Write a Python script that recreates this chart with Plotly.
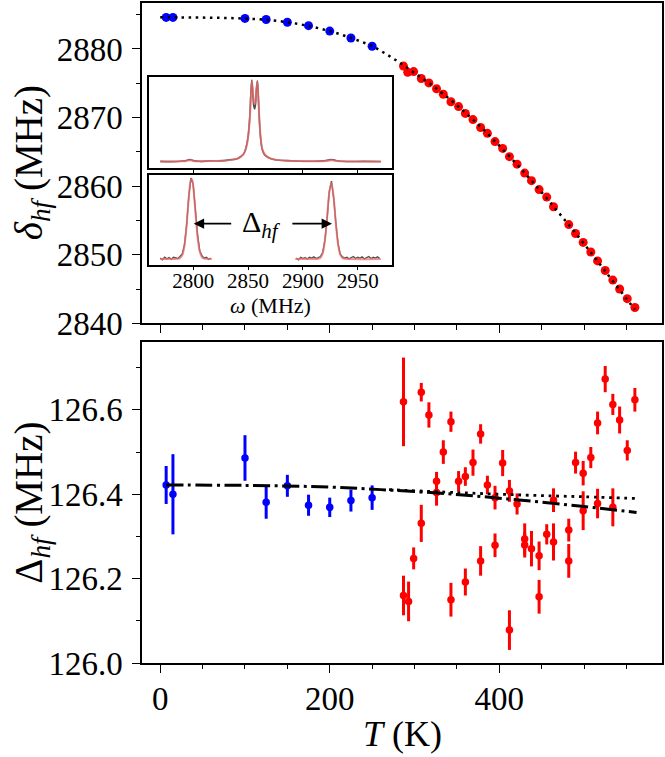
import plotly.graph_objects as go

# ---------------- data ----------------
blue_T = [7, 15, 100, 125, 150, 175, 200, 225, 250]
blue_D = [2884.6, 2884.6, 2884.45, 2884.3, 2883.9, 2883.4, 2882.6, 2881.6, 2880.4]
blue_dhf = [126.422, 126.400, 126.486, 126.381, 126.420, 126.374, 126.369, 126.385, 126.392]
blue_err = [0.045, 0.095, 0.054, 0.039, 0.026, 0.025, 0.023, 0.026, 0.029]

red_T_top = [287, 292, 299, 308, 317, 326, 334, 343, 352, 360, 369, 378, 386, 395, 404, 412,
             421, 430, 438, 447, 456, 464, 482, 490, 499, 508, 516, 525, 534, 542, 551, 560]
red_D = [2877.5, 2876.6, 2876.7, 2875.7, 2875.05, 2874.2, 2873.4, 2872.3, 2871.6, 2870.6,
         2869.7, 2868.55, 2867.7, 2866.5, 2865.5, 2864.3, 2863.2, 2861.9, 2860.8, 2859.5,
         2858.4, 2857.0, 2854.4, 2853.1, 2851.8, 2850.4, 2849.1, 2847.7, 2846.3, 2845.0,
         2843.6, 2842.3]

red_T_bot = [287, 287, 293, 299, 308, 308, 317, 326, 326, 334, 343, 343, 352, 360, 360, 369,
             378, 378, 386, 395, 395, 404, 412, 412, 421, 430, 430, 438, 447, 447, 456, 464,
             464, 482, 482, 490, 499, 499, 508, 516, 516, 525, 534, 534, 542, 551, 560]
red_dhf = [126.619, 126.160, 126.146, 126.248, 126.642, 126.331, 126.588, 126.431, 126.404,
           126.500, 126.572, 126.150, 126.431, 126.442, 126.192, 126.475, 126.543, 126.242,
           126.422, 126.392, 126.279, 126.474, 126.408, 126.078, 126.377, 126.294, 126.280,
           126.271, 126.254, 126.157, 126.305, 126.386, 126.287, 126.315, 126.242, 126.475,
           126.450, 126.361, 126.487, 126.569, 126.378, 126.673, 126.613, 126.369, 126.576,
           126.504, 126.624]
red_err = [0.105, 0.047, 0.047, 0.026, 0.022, 0.044, 0.030, 0.022, 0.031, 0.028, 0.024, 0.040,
           0.024, 0.022, 0.032, 0.031, 0.023, 0.035, 0.022, 0.028, 0.028, 0.031, 0.026, 0.047,
           0.025, 0.037, 0.030, 0.042, 0.034, 0.040, 0.024, 0.028, 0.044, 0.027, 0.040, 0.026,
           0.029, 0.046, 0.025, 0.027, 0.035, 0.031, 0.025, 0.045, 0.032, 0.024, 0.028]

# fit curve of the zero-field splitting (top panel)
fit_T = [0, 25, 50, 75, 100, 125, 150, 175, 200, 225, 250, 275, 300, 325, 350, 375, 400,
         425, 450, 475, 500, 525, 550, 560]
fit_D = [2884.62, 2884.60, 2884.57, 2884.52, 2884.43, 2884.25, 2883.90, 2883.35, 2882.60,
         2881.60, 2880.40, 2878.60, 2876.50, 2874.30, 2871.80, 2869.00, 2865.90, 2862.60,
         2859.10, 2855.40, 2851.60, 2847.60, 2843.60, 2842.00]

# fits of the hyperfine splitting (bottom panel)
fitA_T = [7, 100, 200, 260, 340, 420, 500, 562]
fitA_dhf = [126.422, 126.421, 126.417, 126.411, 126.401, 126.387, 126.371, 126.357]
fitB_T = [270, 350, 430, 500, 562]
fitB_dhf = [126.411, 126.404, 126.398, 126.394, 126.390]

# inset: spectra (normalised intensity vs omega in MHz)
up_w = [2770, 2780, 2790, 2794, 2797, 2800, 2806, 2815, 2825, 2835, 2840, 2843, 2846, 2848,
        2850, 2851.5, 2852.5, 2853.4, 2854.3, 2855.2, 2856.0, 2856.8, 2857.6, 2858.5, 2859.4,
        2860.4, 2861.5, 2863, 2865, 2868, 2871, 2876, 2885, 2900, 2915, 2921, 2926, 2931,
        2940, 2955, 2971]
up_fit = [0.004, 0.005, 0.007, 0.012, 0.02, 0.012, 0.009, 0.01, 0.014, 0.025, 0.04, 0.06, 0.1,
          0.16, 0.3, 0.52, 0.78, 1.0, 0.9, 0.76, 0.72, 0.76, 0.9, 1.0, 0.78, 0.52, 0.3, 0.16,
          0.1, 0.06, 0.04, 0.025, 0.014, 0.009, 0.008, 0.01, 0.02, 0.01, 0.006, 0.004, 0.003]
up_data = [0.006, 0.003, 0.01, 0.018, 0.028, 0.016, 0.007, 0.012, 0.012, 0.028, 0.038, 0.064,
           0.1, 0.17, 0.31, 0.55, 0.83, 1.02, 0.86, 0.7, 0.66, 0.72, 0.9, 1.01, 0.8, 0.5, 0.29,
           0.15, 0.09, 0.058, 0.04, 0.024, 0.016, 0.008, 0.01, 0.016, 0.03, 0.014, 0.005,
           0.006, 0.004]

lo_w_data = [2770, 2772, 2774, 2776, 2778, 2780, 2782, 2784, 2786, 2788, 2790, 2792, 2794,
             2796, 2798, 2800, 2802, 2804, 2806, 2808, 2810, 2812, 2814, 2816, None,
             2894, 2896, 2898, 2900, 2902, 2904, 2906, 2908, 2910, 2912, 2914, 2916, 2918,
             2920, 2922, 2924, 2926, 2928, 2930, 2932, 2934, 2936, 2938, 2940, 2942, 2944,
             2946, 2948, 2950, 2952, 2954, 2956, 2958, 2960, 2962, 2964, 2966, 2968, 2970]
lo_data = [0.01, -0.01, 0.02, 0.0, 0.015, -0.005, 0.02, 0.01, 0.005, 0.03, 0.06, 0.17, 0.42,
           0.78, 1.01, 0.93, 0.62, 0.3, 0.1, 0.04, 0.01, 0.02, -0.005, 0.01, None,
           0.01, -0.01, 0.02, 0.005, 0.015, 0.0, 0.02, 0.01, 0.025, 0.005, 0.015, 0.03, 0.08,
           0.23, 0.5, 0.84, 0.97, 0.76, 0.45, 0.19, 0.06, 0.025, 0.01, 0.02, 0.0, 0.015, 0.03,
           0.005, 0.02, 0.01, 0.025, 0.0, 0.015, 0.03, 0.005, 0.02, 0.01, 0.025, 0.005]
lo_w_fit = [2770, 2786, 2788, 2790, 2792, 2794, 2796, 2798, 2799, 2800, 2802, 2804, 2806, 2808,
            2810, 2817, None, 2893, 2912, 2914, 2916, 2918, 2920, 2922, 2924, 2926, 2928,
            2930, 2932, 2934, 2936, 2938, 2971]
lo_fit = [0.0, 0.002, 0.01, 0.044, 0.16, 0.417, 0.763, 0.989, 0.99, 0.907, 0.589, 0.27, 0.088,
          0.02, 0.003, 0.0, None, 0.0, 0.0, 0.002, 0.015, 0.068, 0.222, 0.509, 0.826, 0.948,
          0.771, 0.443, 0.18, 0.052, 0.01, 0.002, 0.0]

# ---------------- layout helpers (pixel -> paper) ----------------
W, H = 665, 757
ML, MR, MT, MB = 142, 2, 1, 94
PW, PH = W - ML - MR, H - MT - MB


def px(x):
    return (x - ML) / PW


def py(y):
    return (H - MB - y) / PH


FONT = "Liberation Serif"
BLUE, RED = "#0000ff", "#ff0000"

fig = go.Figure()

# top panel
fig.add_trace(go.Scatter(x=blue_T, y=blue_D, mode="markers", xaxis="x", yaxis="y",
                         marker=dict(color=BLUE, size=9, line=dict(width=0))))
fig.add_trace(go.Scatter(x=red_T_top, y=red_D, mode="markers", xaxis="x", yaxis="y",
                         marker=dict(color=RED, size=9, line=dict(width=0))))
fig.add_trace(go.Scatter(x=fit_T, y=fit_D, mode="lines", xaxis="x", yaxis="y",
                         line=dict(color="black", width=2.5, dash="2.5px,4.6px", shape="spline")))

# bottom panel
fig.add_trace(go.Scatter(x=blue_T, y=blue_dhf, mode="markers", xaxis="x2", yaxis="y2",
                         marker=dict(color=BLUE, size=7.5, line=dict(width=0)),
                         error_y=dict(type="data", array=blue_err, color=BLUE,
                                      thickness=3, width=0)))
fig.add_trace(go.Scatter(x=red_T_bot, y=red_dhf, mode="markers", xaxis="x2", yaxis="y2",
                         marker=dict(color=RED, size=7.5, line=dict(width=0)),
                         error_y=dict(type="data", array=red_err, color=RED,
                                      thickness=3, width=0)))
fig.add_trace(go.Scatter(x=fitA_T, y=fitA_dhf, mode="lines", xaxis="x2", yaxis="y2",
                         line=dict(color="black", width=3, dash="17px,4.5px,3px,4.5px",
                                   shape="spline")))
fig.add_trace(go.Scatter(x=fitB_T, y=fitB_dhf, mode="lines", xaxis="x2", yaxis="y2",
                         line=dict(color="black", width=2.8, dash="2.8px,4.8px",
                                   shape="spline")))

# insets
fig.add_trace(go.Scatter(x=up_w, y=up_data, mode="lines", xaxis="x3", yaxis="y3",
                         line=dict(color="#505050", width=1.6, shape="spline")))
fig.add_trace(go.Scatter(x=up_w, y=up_fit, mode="lines", xaxis="x3", yaxis="y3",
                         line=dict(color="rgba(240,110,110,0.75)", width=2, shape="spline")))
fig.add_trace(go.Scatter(x=lo_w_data, y=lo_data, mode="lines", xaxis="x4", yaxis="y4",
                         connectgaps=False,
                         line=dict(color="#505050", width=1.4)))
fig.add_trace(go.Scatter(x=lo_w_fit, y=lo_fit, mode="lines", xaxis="x4", yaxis="y4",
                         connectgaps=False,
                         line=dict(color="rgba(240,110,110,0.75)", width=2, shape="spline")))

tickfont = dict(family=FONT, size=33, color="black")
frame = dict(showline=True, mirror=True, linecolor="black", linewidth=1.5,
             showgrid=False, zeroline=False, ticks="outside", ticklen=8, tickwidth=1.3,
             tickcolor="black", tickfont=tickfont)

x_top_bot = dict(range=[-21.5, 592], tickmode="array", tickvals=[0, 200, 400],
                 minor=dict(tickmode="array", tickvals=[50, 100, 150, 250, 300, 350, 450, 500, 550],
                            ticks="outside", ticklen=4.5, tickwidth=1, tickcolor="black"))

inset_ax = dict(showline=True, mirror=True, linecolor="black", linewidth=1.5,
                showgrid=False, zeroline=False)
inset_x = dict(range=[2760, 2981], tickmode="array", tickvals=[2800, 2850, 2900, 2950],
               ticks="outside", ticklen=4, tickwidth=1, tickcolor="black",
               domain=[px(149.3), px(392.3)])

fig.update_layout(
    width=W, height=H, margin=dict(l=ML, r=MR, t=MT, b=MB),
    paper_bgcolor="white", plot_bgcolor="white", showlegend=False,
    font=dict(family=FONT, color="black"),
    xaxis=dict(**frame, **x_top_bot, domain=[0, 1], anchor="y", showticklabels=False),
    yaxis=dict(**frame, domain=[py(322.3), 1], anchor="x", range=[2840, 2886.7],
               tickmode="linear", tick0=2840, dtick=10, ticklabelstandoff=3,
               minor=dict(tickmode="linear", tick0=2845, dtick=10, ticks="outside",
                          ticklen=4.5, tickwidth=1, tickcolor="black")),
    xaxis2=dict(**frame, **x_top_bot, domain=[0, 1], anchor="y2", ticklabelstandoff=-2),
    yaxis2=dict(**frame, domain=[0, py(341)], anchor="x2", range=[126.0, 126.761],
                tickmode="linear", tick0=126.0, dtick=0.2, tickformat=".1f",
                ticklabelstandoff=3,
                minor=dict(tickmode="linear", tick0=126.1, dtick=0.2, ticks="outside",
                           ticklen=4.5, tickwidth=1, tickcolor="black")),
    xaxis3=dict(**inset_ax, **inset_x, anchor="y3", showticklabels=False),
    yaxis3=dict(**inset_ax, domain=[py(166), py(75)], anchor="x3", range=[-0.07, 1.06],
                showticklabels=False, ticks=""),
    xaxis4=dict(**inset_ax, **inset_x, anchor="y4", showticklabels=True,
                tickfont=dict(family=FONT, size=21, color="black"), ticklabelstandoff=-7),
    yaxis4=dict(**inset_ax, domain=[py(263.3), py(173.3)], anchor="x4", range=[-0.07, 1.05],
                showticklabels=False, ticks=""),
)

ann = [
    dict(text="<i>δ</i><sub><i>hf</i></sub> (MHz)", x=px(31), y=py(161.5), textangle=-90,
         font=dict(family=FONT, size=39, color="black")),
    dict(text="Δ<sub><i>hf</i></sub> (MHz)", x=px(31), y=py(502), textangle=-90,
         font=dict(family=FONT, size=39, color="black")),
    dict(text="<i>T</i> (K)", x=px(402.5), y=py(734),
         font=dict(family=FONT, size=36, color="black")),
    dict(text="<i>ω</i> (MHz)", x=px(271), y=py(304),
         font=dict(family=FONT, size=22, color="black")),
]
for a in ann:
    a.update(xref="paper", yref="paper", showarrow=False, xanchor="center", yanchor="middle")
fig.update_layout(annotations=ann)

fig.add_annotation(text="Δ<sub><i>hf</i></sub>", x=2862, y=0.44, xref="x4", yref="y4",
                   showarrow=False, font=dict(family=FONT, size=30, color="black"))
fig.add_annotation(x=2800.5, y=0.44, ax=2836, ay=0.44, xref="x4", yref="y4",
                   axref="x4", ayref="y4", showarrow=True, arrowhead=2, arrowsize=1.3,
                   arrowwidth=1.6, arrowcolor="black", text="")
fig.add_annotation(x=2926.5, y=0.44, ax=2889, ay=0.44, xref="x4", yref="y4",
                   axref="x4", ayref="y4", showarrow=True, arrowhead=2, arrowsize=1.3,
                   arrowwidth=1.6, arrowcolor="black", text="")

fig.write_html("out.html")
